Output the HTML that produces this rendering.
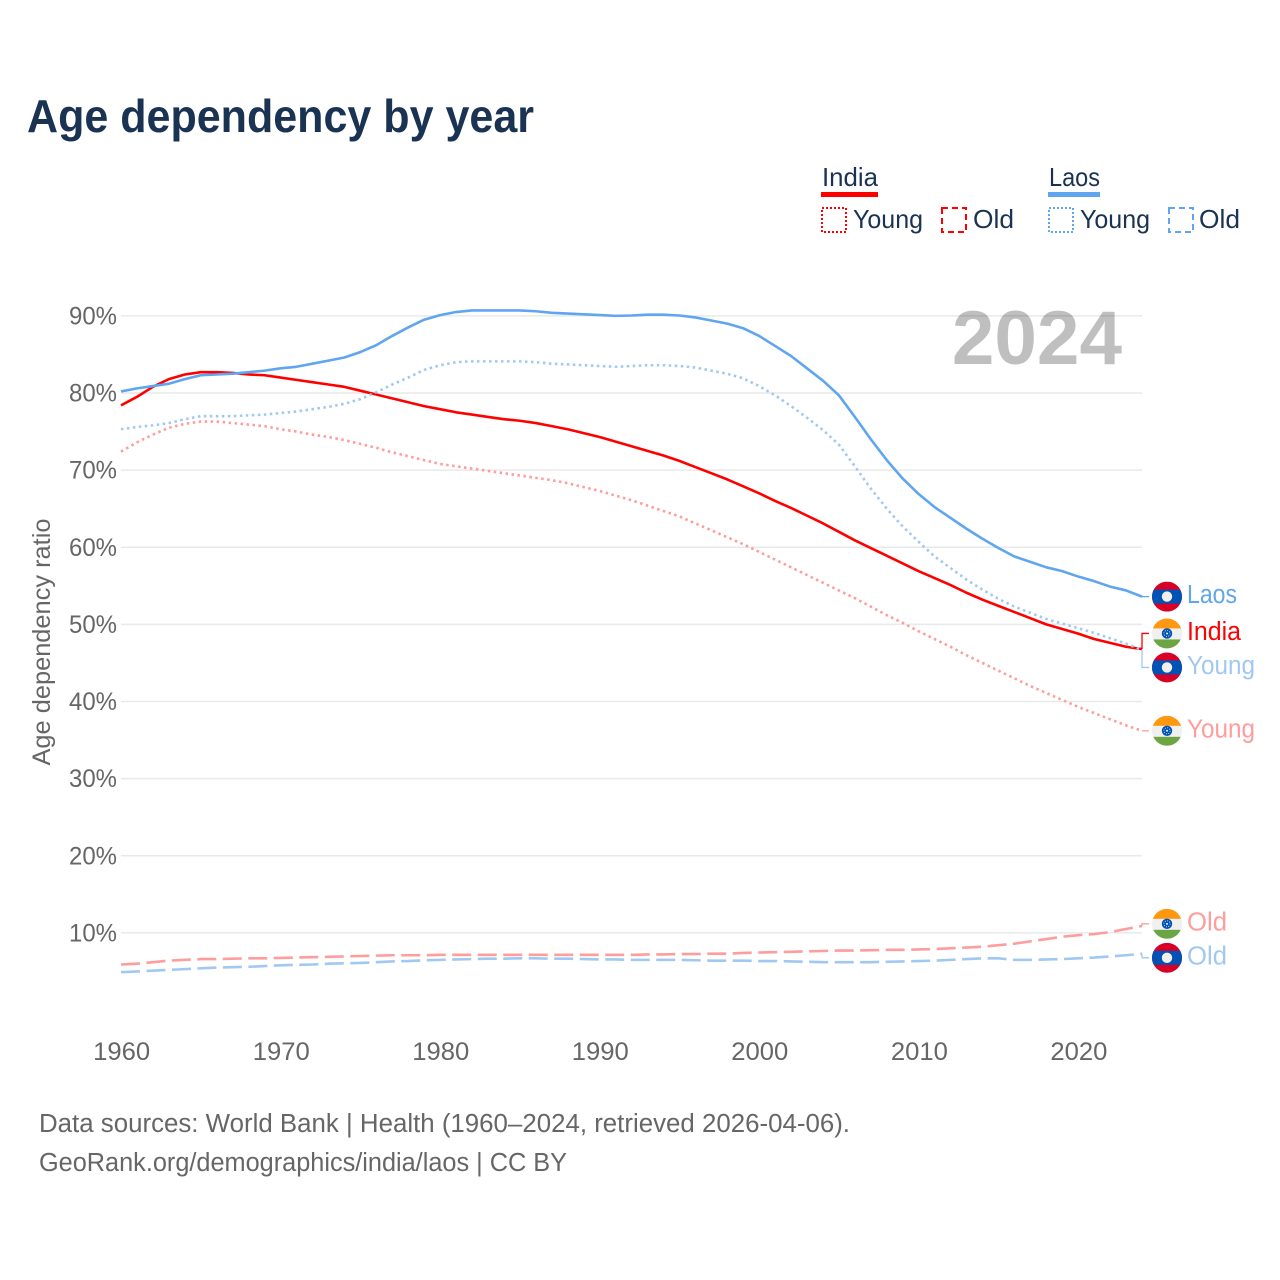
<!DOCTYPE html>
<html lang="en">
<head>
<meta charset="utf-8">
<title>Age dependency by year</title>
<style>
html,body{margin:0;padding:0;background:#fff;width:1280px;height:1280px;overflow:hidden}
svg{display:block}
text{font-family:"Liberation Sans",sans-serif}
</style>
</head>
<body>
<svg id="chart" width="1280" height="1280" viewBox="0 0 1280 1280" xmlns="http://www.w3.org/2000/svg">
  <text x="27" y="132" font-size="46" font-weight="700" fill="#1a3353" textLength="507" lengthAdjust="spacingAndGlyphs">Age dependency by year</text>

  <g>
    <text x="822" y="186" font-size="26" fill="#1a3353" textLength="56" lengthAdjust="spacingAndGlyphs">India</text>
    <rect x="821" y="192" width="57" height="5" fill="#ff0000"/>
    <rect x="822" y="208" width="24" height="24" fill="none" stroke="#ff0000" stroke-width="2" stroke-dasharray="2 2"/>
    <text x="853" y="228" font-size="26" fill="#1a3353" textLength="70" lengthAdjust="spacingAndGlyphs">Young</text>
    <rect x="942" y="208" width="24" height="24" fill="none" stroke="#ff0000" stroke-width="2" stroke-dasharray="6 4"/>
    <text x="973" y="228" font-size="26" fill="#1a3353" textLength="41" lengthAdjust="spacingAndGlyphs">Old</text>

    <text x="1049" y="186" font-size="26" fill="#1a3353" textLength="51" lengthAdjust="spacingAndGlyphs">Laos</text>
    <rect x="1048" y="192" width="52" height="5" fill="#60a5f0"/>
    <rect x="1049" y="208" width="24" height="24" fill="none" stroke="#60a5f0" stroke-width="2" stroke-dasharray="2 2"/>
    <text x="1080" y="228" font-size="26" fill="#1a3353" textLength="70" lengthAdjust="spacingAndGlyphs">Young</text>
    <rect x="1169" y="208" width="24" height="24" fill="none" stroke="#60a5f0" stroke-width="2" stroke-dasharray="6 4"/>
    <text x="1199" y="228" font-size="26" fill="#1a3353" textLength="41" lengthAdjust="spacingAndGlyphs">Old</text>
  </g>

  <g id="grid"></g>
  <text x="1122" y="364" text-anchor="end" font-size="76.5" font-weight="700" fill="#000" fill-opacity="0.25">2024</text>
  <g id="yticks"></g>
  <g id="xticks"></g>
  <text transform="translate(50,642) rotate(-90)" text-anchor="middle" font-size="25" fill="#666" textLength="247" lengthAdjust="spacingAndGlyphs">Age dependency ratio</text>
  <g id="series"></g>
  <g id="endlabels"></g>

  <text x="39" y="1132" font-size="25.5" fill="#666" textLength="811" lengthAdjust="spacingAndGlyphs">Data sources: World Bank | Health (1960–2024, retrieved 2026-04-06).</text>
  <text x="39" y="1171" font-size="25.5" fill="#666" textLength="528" lengthAdjust="spacingAndGlyphs">GeoRank.org/demographics/india/laos | CC BY</text>
</svg>
<script>
const startYear = 1960;
const yTickValues = [10, 20, 30, 40, 50, 60, 70, 80, 90];
const xTickYears = [1960, 1970, 1980, 1990, 2000, 2010, 2020];

const indiaTotal = [78.4,79.5,80.8,81.8,82.4,82.7,82.7,82.6,82.4,82.3,82.0,81.7,81.4,81.1,80.8,80.3,79.8,79.3,78.8,78.3,77.9,77.5,77.2,76.9,76.6,76.4,76.1,75.7,75.3,74.8,74.3,73.7,73.1,72.5,71.9,71.2,70.4,69.6,68.8,67.9,67.0,66.0,65.1,64.1,63.1,62.0,60.9,59.9,58.9,57.9,56.9,56.0,55.1,54.1,53.2,52.4,51.6,50.8,50.0,49.4,48.8,48.1,47.6,47.1,46.8];
const indiaYoung = [72.4,73.6,74.6,75.5,76.0,76.3,76.3,76.1,75.9,75.7,75.3,75.0,74.6,74.3,73.9,73.4,72.9,72.3,71.8,71.3,70.8,70.5,70.2,69.9,69.6,69.3,69.0,68.7,68.3,67.8,67.3,66.7,66.1,65.4,64.7,64.0,63.1,62.2,61.3,60.4,59.4,58.4,57.4,56.4,55.4,54.4,53.4,52.3,51.2,50.2,49.1,48.1,47.1,46.0,45.0,44.0,43.0,42.0,41.1,40.2,39.3,38.5,37.7,36.9,36.2];
const indiaOld = [5.9,6.0,6.2,6.4,6.5,6.6,6.6,6.65,6.7,6.7,6.75,6.8,6.85,6.9,6.95,7.0,7.05,7.1,7.1,7.1,7.15,7.15,7.15,7.15,7.15,7.15,7.15,7.15,7.15,7.15,7.15,7.15,7.15,7.2,7.2,7.25,7.25,7.3,7.3,7.4,7.45,7.5,7.55,7.6,7.65,7.7,7.7,7.75,7.8,7.8,7.85,7.9,8.0,8.1,8.2,8.4,8.6,8.9,9.2,9.5,9.7,9.85,10.1,10.5,10.9];
const laosTotal = [80.2,80.6,80.9,81.2,81.8,82.3,82.4,82.5,82.7,82.9,83.2,83.4,83.8,84.2,84.6,85.3,86.2,87.4,88.5,89.5,90.1,90.5,90.7,90.7,90.7,90.7,90.6,90.4,90.3,90.2,90.1,90.0,90.05,90.15,90.15,90.05,89.8,89.4,89.0,88.4,87.4,86.1,84.8,83.2,81.6,79.7,76.9,74.0,71.3,68.9,66.9,65.2,63.8,62.4,61.1,59.9,58.8,58.1,57.4,56.9,56.2,55.6,54.9,54.4,53.6];
const laosYoung = [75.3,75.6,75.8,76.1,76.6,77.0,77.0,77.0,77.1,77.2,77.4,77.6,77.9,78.2,78.6,79.2,80.1,81.1,82.0,83.0,83.6,84.0,84.1,84.1,84.1,84.1,84.0,83.8,83.7,83.6,83.5,83.4,83.5,83.6,83.6,83.5,83.3,82.9,82.5,81.9,80.9,79.7,78.3,76.8,75.2,73.3,70.5,67.6,65.0,62.7,60.7,58.8,57.3,55.8,54.5,53.3,52.3,51.5,50.7,50.1,49.5,48.9,48.2,47.5,46.7];
const laosOld = [4.9,5.0,5.1,5.2,5.3,5.4,5.5,5.55,5.6,5.7,5.8,5.85,5.9,6.0,6.05,6.1,6.2,6.3,6.35,6.45,6.5,6.55,6.6,6.65,6.65,6.7,6.7,6.65,6.65,6.6,6.55,6.55,6.5,6.5,6.5,6.5,6.45,6.4,6.4,6.4,6.35,6.35,6.3,6.25,6.2,6.2,6.2,6.2,6.25,6.3,6.35,6.4,6.5,6.6,6.7,6.7,6.5,6.5,6.55,6.6,6.7,6.8,6.95,7.1,7.3];

const seriesNames = ['india-total','india-young','india-old','laos-total','laos-young','laos-old'];
const seriesValues = [indiaTotal, indiaYoung, indiaOld, laosTotal, laosYoung, laosOld];
const endLabelTexts = ['India','Young','Old','Laos','Young','Old'];

const NS = 'http://www.w3.org/2000/svg';
const RED = '#ff0000', BLUE = '#60a5f0', LRED = '#ff9c9c', LBLUE = '#a0c8f2';
const styles = [
  {c:RED, w:2.6, d:''}, {c:LRED, w:2.6, d:'2.5 3.5'}, {c:LRED, w:2.6, d:'19 6.5'},
  {c:BLUE, w:2.6, d:''}, {c:LBLUE, w:2.6, d:'2.5 3.5'}, {c:LBLUE, w:2.6, d:'19 6.5'}
];
const flagOfSeries = ['india','india','india','laos','laos','laos'];
const labelWidths = {India:54, Laos:50, Young:68, Old:40};

function xScale(year){ return 121 + (year - 1960) * (1142 - 121) / 64; }
function yScale(v){ return 1010 - v * 7.7125; }
function mk(tag, attrs, parent){
  const el = document.createElementNS(NS, tag);
  for (const k in attrs) el.setAttribute(k, attrs[k]);
  parent.appendChild(el);
  return el;
}

const gridG = document.getElementById('grid');
const yG = document.getElementById('yticks');
yTickValues.forEach(function(v){
  const line = mk('line', {x1:121, x2:1142, y1:yScale(v), y2:yScale(v), stroke:'#e9e9e9', 'stroke-width':1.5}, gridG);
  
  
  const t = mk('text', {x:117, y:yScale(v)+8.5, 'text-anchor':'end', 'font-size':25, fill:'#666', textLength:48, lengthAdjust:'spacingAndGlyphs'}, yG);
  
  
  t.textContent = v + '%';
});

const xG = document.getElementById('xticks');
xTickYears.forEach(function(y){
  const t = mk('text', {x:xScale(y)+0.7, y:1060, 'text-anchor':'middle', 'font-size':25, fill:'#666', textLength:57, lengthAdjust:'spacingAndGlyphs'}, xG);
  
  
  t.textContent = y;
});

const seriesG = document.getElementById('series');
seriesValues.forEach(function(vals, i){
  const pts = vals.map(function(v, k){ return xScale(startYear + k).toFixed(2) + ',' + yScale(v).toFixed(2); }).join(' ');
  const s = styles[i];
  const line = mk('polyline', {points:pts, fill:'none', stroke:s.c, 'stroke-width':s.w, 'stroke-linejoin':'round', 'stroke-dasharray':s.d}, seriesG);
  
  
});

/* end labels: spread apart colliding labels, keeping clusters centred on their data */
const MIN_GAP = 34;
let items = seriesValues.map(function(vals, i){
  const last = yScale(vals[vals.length - 1]);
  return {i:i, y0:last, y:last};
}).sort(function(a, b){ return a.y0 - b.y0; });
let clusters = items.map(function(it){ return {members:[it], c:it.y0}; });
let merged = true;
while (merged) {
  merged = false;
  for (let k = 0; k < clusters.length - 1; k++) {
    const a = clusters[k], b = clusters[k + 1];
    const aBottom = a.c + (a.members.length - 1) * MIN_GAP / 2;
    const bTop = b.c - (b.members.length - 1) * MIN_GAP / 2;
    if (bTop - aBottom < MIN_GAP) {
      const m = a.members.concat(b.members);
      const c = m.reduce(function(s, it){ return s + it.y0; }, 0) / m.length;
      clusters.splice(k, 2, {members:m, c:c});
      merged = true;
      break;
    }
  }
}
clusters.forEach(function(cl){
  const nudge = cl.members.length > 1 ? 1 : 0;
  cl.members.forEach(function(it, idx){
    it.y = cl.c + nudge + (idx - (cl.members.length - 1) / 2) * MIN_GAP;
  });
});

function drawFlag(kind, cx, cy, parent){
  const g = mk('g', {transform:'translate(' + cx + ',' + cy.toFixed(2) + ')'}, parent);
  
  
  const clipId = 'clip-' + kind + '-' + Math.round(cy);
  const defs = mk('defs', {}, g);
  const cp = mk('clipPath', {id:clipId}, defs);
  mk('circle', {r:15}, cp);
  const inner = mk('g', {'clip-path':'url(#' + clipId + ')'}, g);
  if (kind === 'laos') {
    mk('rect', {x:-15, y:-15, width:30, height:30, fill:'#d80027'}, inner);
    mk('rect', {x:-15, y:-7, width:30, height:14, fill:'#0052b4'}, inner);
    mk('circle', {r:5.2, fill:'#f0f0f0'}, inner);
  } else {
    mk('rect', {x:-15, y:-15, width:30, height:30, fill:'#f0f0f0'}, inner);
    mk('rect', {x:-15, y:-15, width:30, height:10, fill:'#ff9811'}, inner);
    mk('rect', {x:-15, y:6, width:30, height:9, fill:'#6da544'}, inner);
    mk('circle', {r:5.2, fill:'#0052b4'}, inner);
    mk('circle', {r:3.1, fill:'none', stroke:'#f0f0f0', 'stroke-width':0.8, 'stroke-dasharray':'1 1.4'}, inner);
    mk('circle', {r:1, fill:'#f0f0f0'}, inner);
  }
}

const labelsG = document.getElementById('endlabels');
items.forEach(function(it){
  const s = styles[it.i];
  const path = 'M1142,' + it.y0.toFixed(2) + ' L1142,' + it.y.toFixed(2) + ' L1149,' + it.y.toFixed(2);
  const conn = mk('path', {d:path, fill:'none', stroke:s.c, 'stroke-width':1.3}, labelsG);
  
  
  drawFlag(flagOfSeries[it.i], 1167, it.y, labelsG);
  const word = endLabelTexts[it.i];
  const t = mk('text', {x:1187, y:it.y+6.5, 'font-size':25.5, fill:s.c, textLength:labelWidths[word], lengthAdjust:'spacingAndGlyphs'}, labelsG);
  
  
  t.textContent = word;
});
</script>
</body>
</html>
